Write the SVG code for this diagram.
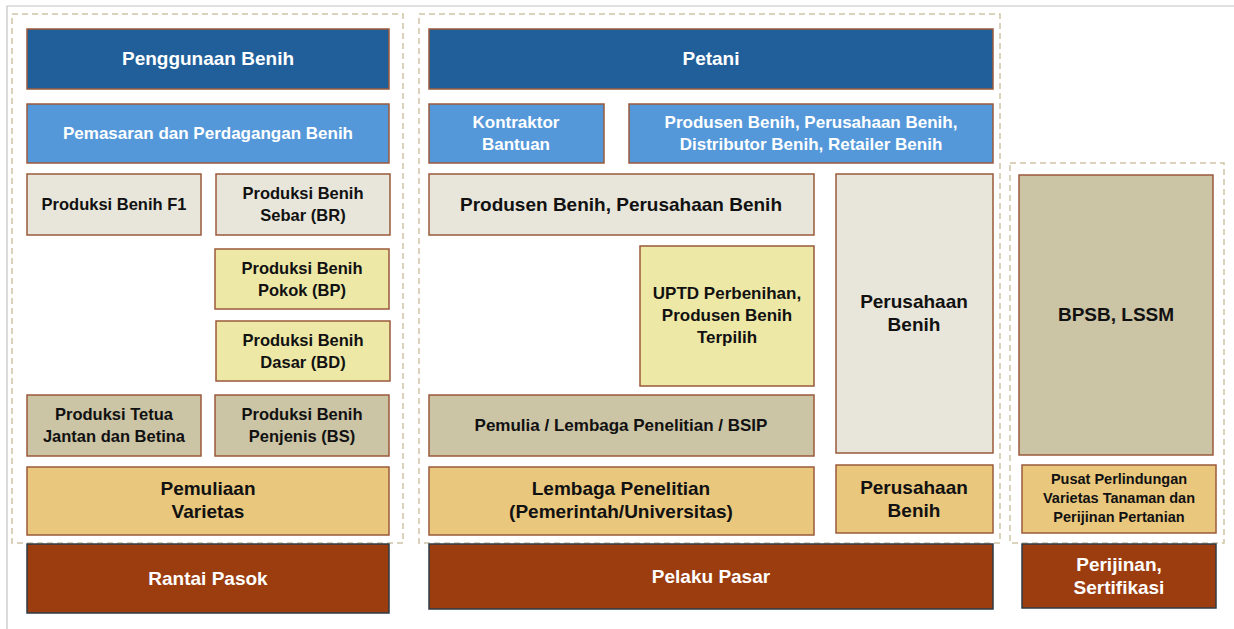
<svg xmlns="http://www.w3.org/2000/svg" width="1234" height="629" viewBox="0 0 1234 629">
<style>
text{font-family:"Liberation Sans",Arial,sans-serif;font-weight:bold;text-anchor:middle}
.w{fill:#ffffff}
.k{fill:#111111}
.s16{font-size:16.5px}
.s17{font-size:17px}
.s19{font-size:19px}
.s14{font-size:14.5px}
.b{stroke:#9a5a3a;stroke-width:1.5}
.d{stroke:#2e3b46;stroke-width:1.5}
.grp{fill:none;stroke:#cfc3a5;stroke-width:1.5;stroke-dasharray:6 4}
.dark{fill:#215f9a}
.mid{fill:#5498da}
.pale{fill:#e8e6da}
.yel{fill:#ede8a6}
.tan{fill:#cbc4a5}
.gold{fill:#e9c77d}
.rust{fill:#9c3d10}
</style>
<rect width="1234" height="629" fill="#ffffff"/>
<path d="M7 629 V6 H1234" fill="none" stroke="#c4c4c4" stroke-width="1.2"/>
<g id="containers">
<rect class="grp" x="12" y="14" width="391" height="529"/>
<rect class="grp" x="419" y="14" width="581" height="529"/>
<rect class="grp" x="1010" y="163" width="214" height="380"/>
</g>
<g id="connectors"></g>
<g id="n-penggunaan"><rect class="dark b" x="27" y="29" width="362" height="60"/><text class="w s19" x="208" y="65">Penggunaan Benih</text></g>
<g id="n-pemasaran"><rect class="mid b" x="27" y="104" width="362" height="59"/><text class="w s17" x="208" y="139">Pemasaran dan Perdagangan Benih</text></g>
<g id="n-f1"><rect class="pale b" x="27" y="174" width="174" height="61"/><text class="k s16" x="114" y="210">Produksi Benih F1</text></g>
<g id="n-br"><rect class="pale b" x="216" y="174" width="174" height="61"/><text class="k s16" x="303" y="199">Produksi Benih</text><text class="k s16" x="303" y="221">Sebar (BR)</text></g>
<g id="n-bp"><rect class="yel b" x="215" y="249" width="174" height="60"/><text class="k s16" x="302" y="274">Produksi Benih</text><text class="k s16" x="302" y="296">Pokok (BP)</text></g>
<g id="n-bd"><rect class="yel b" x="216" y="321" width="174" height="60"/><text class="k s16" x="303" y="346">Produksi Benih</text><text class="k s16" x="303" y="368">Dasar (BD)</text></g>
<g id="n-tetua"><rect class="tan b" x="27" y="395" width="174" height="61"/><text class="k s16" x="114" y="420">Produksi Tetua</text><text class="k s16" x="114" y="442">Jantan dan Betina</text></g>
<g id="n-bs"><rect class="tan b" x="215" y="395" width="174" height="61"/><text class="k s16" x="302" y="420">Produksi Benih</text><text class="k s16" x="302" y="442">Penjenis (BS)</text></g>
<g id="n-pemuliaan"><rect class="gold b" x="27" y="467" width="362" height="68"/><text class="k s19" x="208" y="495">Pemuliaan</text><text class="k s19" x="208" y="518">Varietas</text></g>
<g id="n-rantai"><rect class="rust d" x="27" y="544" width="362" height="69"/><text class="w s19" x="208" y="585">Rantai Pasok</text></g>

<g id="n-petani"><rect class="dark b" x="429" y="29" width="564" height="60"/><text class="w s19" x="711" y="65">Petani</text></g>
<g id="n-kontraktor"><rect class="mid b" x="429" y="104" width="175" height="59"/><text class="w s17" x="516" y="128">Kontraktor</text><text class="w s17" x="516" y="150">Bantuan</text></g>
<g id="n-distributor"><rect class="mid b" x="629" y="104" width="364" height="59"/><text class="w s17" x="811" y="128">Produsen Benih, Perusahaan Benih,</text><text class="w s17" x="811" y="150">Distributor Benih, Retailer Benih</text></g>
<g id="n-produsen"><rect class="pale b" x="429" y="174" width="385" height="61"/><text class="k s19" x="621" y="211">Produsen Benih, Perusahaan Benih</text></g>
<g id="n-uptd"><rect class="yel b" x="640" y="246" width="174" height="140"/><text class="k s17" x="727" y="299">UPTD Perbenihan,</text><text class="k s17" x="727" y="321">Produsen Benih</text><text class="k s17" x="727" y="343">Terpilih</text></g>
<g id="n-pemulia"><rect class="tan b" x="429" y="395" width="385" height="61"/><text class="k s17" x="621" y="431">Pemulia / Lembaga Penelitian / BSIP</text></g>
<g id="n-lembaga"><rect class="gold b" x="429" y="467" width="385" height="68"/><text class="k s19" x="621" y="495">Lembaga Penelitian</text><text class="k s19" x="621" y="518">(Pemerintah/Universitas)</text></g>
<g id="n-perusahaan1"><rect class="pale b" x="836" y="174" width="157" height="279"/><text class="k s19" x="914" y="308">Perusahaan</text><text class="k s19" x="914" y="331">Benih</text></g>
<g id="n-perusahaan2"><rect class="gold b" x="836" y="465" width="157" height="68"/><text class="k s19" x="914" y="494">Perusahaan</text><text class="k s19" x="914" y="517">Benih</text></g>
<g id="n-pelaku"><rect class="rust d" x="429" y="544" width="564" height="65"/><text class="w s19" x="711" y="583">Pelaku Pasar</text></g>

<g id="n-bpsb"><rect class="tan b" x="1019" y="175" width="194" height="280"/><text class="k s19" x="1116" y="321">BPSB, LSSM</text></g>
<g id="n-pusat"><rect class="gold b" x="1022" y="465" width="194" height="68"/><text class="k s14" x="1119" y="484">Pusat Perlindungan</text><text class="k s14" x="1119" y="503">Varietas Tanaman dan</text><text class="k s14" x="1119" y="522">Perijinan Pertanian</text></g>
<g id="n-perijinan"><rect class="rust d" x="1022" y="544" width="194" height="64"/><text class="w s19" x="1119" y="571">Perijinan,</text><text class="w s19" x="1119" y="594">Sertifikasi</text></g>
</svg>
